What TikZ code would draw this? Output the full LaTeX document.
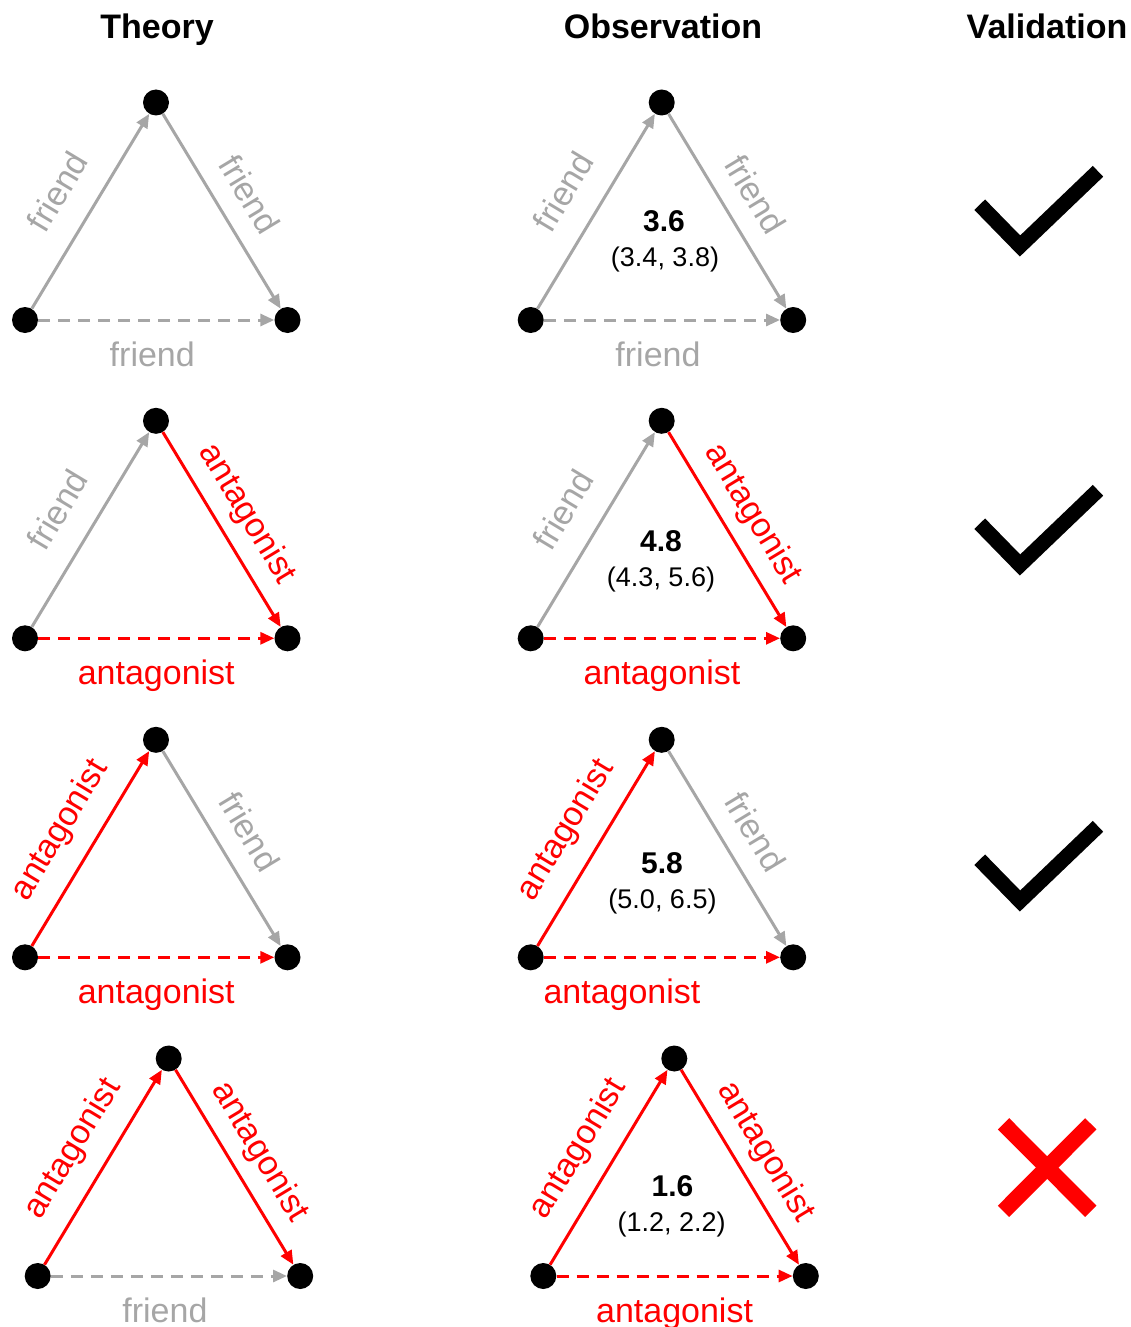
\documentclass[tikz,border=0pt]{standalone}
\usepackage{fontspec}
\setmainfont{Liberation Sans}
\usetikzlibrary{arrows.meta}
\definecolor{relgray}{HTML}{A6A6A6}
\definecolor{relred}{HTML}{FF0000}
% three actors of one triangle: left, top, right
\newcommand{\triad}[3]{%
  \node[dot] (#1l) at (#2,#3) {};
  \node[dot] (#1t) at (#2+131,#3-217.5) {};
  \node[dot] (#1r) at (#2+262.5,#3) {};
}

\begin{document}
\begin{tikzpicture}[
  x=1pt, y=-1pt,
  dot/.style={circle, fill=black, minimum size=26pt, inner sep=0pt},
  rel/.style={line width=3pt, -{Triangle[length=14pt, width=12pt]}},
  frel/.style={rel, draw=relgray, text=relgray},
  arel/.style={rel, draw=relred, text=relred},
  dash3/.style={dash pattern=on 12pt off 8pt},
  lbl/.style={font=\fontsize{34}{40}\selectfont, inner sep=0pt, text height=25pt, text depth=7pt},
  lside/.style={lbl, midway, sloped, above=18pt},
  rside/.style={lbl, midway, sloped, above=12pt},
  bside/.style={lbl, midway, below=20pt},
  head/.style={font=\bfseries\fontsize{34}{40}\selectfont, anchor=base},
  score/.style={font=\bfseries\fontsize{30}{36}\selectfont, anchor=base},
  ci/.style={font=\fontsize{27}{32}\selectfont, anchor=base},
  okmark/.style={line width=15pt, line join=miter},
  nomark/.style={draw=relred, line width=16pt}
]
\useasboundingbox (0,0) rectangle (1131,1327);

% column heads
\node[head] (hth) at (157,39) {Theory};
\node[head] (hob) at (663,39) {Observation};
\node[head] (hva) at (1047,39) {Validation};

% row 1
\triad{ta}{25}{320}
\draw[frel] (tal) -- node[lside] {friend} (tat);
\draw[frel] (tat) -- node[rside] {friend} (tar);
\draw[frel, dash3] (tal) -- node[bside, xshift=-4pt] {friend} (tar);
\triad{oa}{530.7}{320}
\draw[frel] (oal) -- node[lside] {friend} (oat);
\draw[frel] (oat) -- node[rside] {friend} (oar);
\draw[frel, dash3] (oal) -- node[bside, xshift=-4pt] {friend} (oar);
\node[score] (sa) at (664,231.7) {3.6};
\node[ci] (ra) at (665,266.7) {(3.4, 3.8)};

% row 2
\triad{tb}{25}{638.3}
\draw[frel] (tbl) -- node[lside] {friend} (tbt);
\draw[arel] (tbt) -- node[rside] {antagonist} (tbr);
\draw[arel, dash3] (tbl) -- node[bside] {antagonist} (tbr);
\triad{ob}{530.7}{638.3}
\draw[frel] (obl) -- node[lside] {friend} (obt);
\draw[arel] (obt) -- node[rside] {antagonist} (obr);
\draw[arel, dash3] (obl) -- node[bside] {antagonist} (obr);
\node[score] (sb) at (661,551.7) {4.8};
\node[ci] (rb) at (661,586.7) {(4.3, 5.6)};

% row 3
\triad{tc}{25}{957.3}
\draw[arel] (tcl) -- node[lside] {antagonist} (tct);
\draw[frel] (tct) -- node[rside] {friend} (tcr);
\draw[arel, dash3] (tcl) -- node[bside] {antagonist} (tcr);
\triad{oc}{530.7}{957.3}
\draw[arel] (ocl) -- node[lside] {antagonist} (oct);
\draw[frel] (oct) -- node[rside] {friend} (ocr);
\draw[arel, dash3] (ocl) -- node[bside, xshift=-40pt] {antagonist} (ocr);
\node[score] (sc) at (662,873.3) {5.8};
\node[ci] (rc) at (662.5,908.3) {(5.0, 6.5)};

% row 4
\triad{td}{37.7}{1276}
\draw[arel] (tdl) -- node[lside] {antagonist} (tdt);
\draw[arel] (tdt) -- node[rside] {antagonist} (tdr);
\draw[frel, dash3] (tdl) -- node[bside, xshift=-4pt] {friend} (tdr);
\triad{od}{543.3}{1276}
\draw[arel] (odl) -- node[lside] {antagonist} (odt);
\draw[arel] (odt) -- node[rside] {antagonist} (odr);
\draw[arel, dash3] (odl) -- node[bside] {antagonist} (odr);
\node[score] (sd) at (672.5,1196.7) {1.6};
\node[ci] (rd) at (671.7,1231.7) {(1.2, 2.2)};

% validation
\foreach \dy in {0,319,655}
  \draw[okmark] (979.7,204.7+\dy) -- (1020,246+\dy) -- (1098,171.3+\dy);
\draw[nomark] (1003.5,1123.8) -- (1090.8,1211.3);
\draw[nomark] (1090.8,1123.8) -- (1003.5,1211.3);
\end{tikzpicture}
\end{document}
